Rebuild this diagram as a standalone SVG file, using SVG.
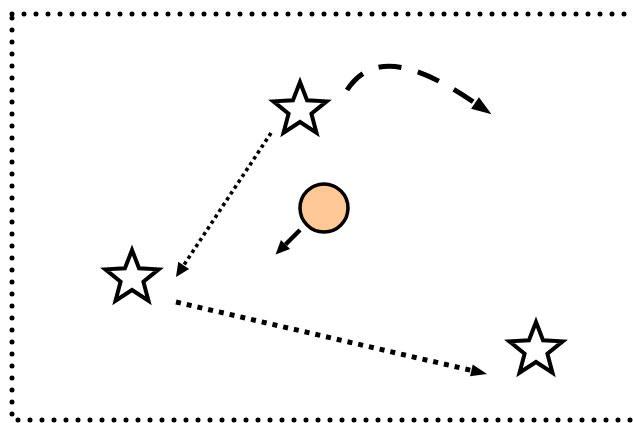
<svg xmlns="http://www.w3.org/2000/svg" width="633" height="423" viewBox="0 0 633 423">
<style>
.star{fill:#fff;stroke:#000;stroke-width:4;stroke-linejoin:miter}
.frame{fill:none;stroke:#000;stroke-width:5;stroke-linecap:round;stroke-dasharray:0 12}
.c{fill:none;stroke:#000}
</style>
<defs>
<polygon id="starShape" points="0,-28 7.05,-9.71 26.63,-8.65 11.41,3.71 16.46,22.65 0,12 -16.46,22.65 -11.41,3.71 -26.63,-8.65 -7.05,-9.71"/>
<marker id="mBig" viewBox="0 -10 20 20" markerWidth="20" markerHeight="20" refX="0" refY="0" orient="auto" markerUnits="userSpaceOnUse" overflow="visible"><path d="M0,-7 L20,0 L0,7 z" fill="#000"/></marker>
<marker id="mMed" viewBox="0 -10 20 20" markerWidth="20" markerHeight="20" refX="0" refY="0" orient="auto" markerUnits="userSpaceOnUse" overflow="visible"><path d="M0,-6 L16,0 L0,6 z" fill="#000"/></marker>
<marker id="mSmall" viewBox="0 -10 20 20" markerWidth="20" markerHeight="20" refX="0" refY="0" orient="auto" markerUnits="userSpaceOnUse" overflow="visible"><path d="M0,-6.5 L14,0 L0,6.5 z" fill="#000"/></marker>
</defs>
<rect class="frame" x="12" y="14" width="640" height="406"/>
<g id="connectors">
<path class="c" d="M347,90 C372,52 415,62 475,103" stroke-width="5" stroke-dasharray="23 17" marker-end="url(#mBig)"/>
<path class="c" d="M271,133 L183.7,265.3" stroke-width="3.6" stroke-dasharray="3.5 3.5" marker-end="url(#mSmall)"/>
<path class="c" d="M176,302 L471.4,370.4" stroke-width="5" stroke-dasharray="5 6" marker-end="url(#mMed)"/>
<path class="c" d="M300,230 L285.5,244.5" stroke-width="4.5" marker-end="url(#mSmall)"/>
</g>
<g id="star1"><use href="#starShape" class="star" transform="translate(300,110)"/></g>
<g id="star2"><use href="#starShape" class="star" transform="translate(132,278)"/></g>
<g id="star3"><use href="#starShape" class="star" transform="translate(536,350)"/></g>
<g id="circle"><circle cx="324" cy="208" r="24" fill="#ffc896" stroke="#000" stroke-width="3.5"/></g>
</svg>
